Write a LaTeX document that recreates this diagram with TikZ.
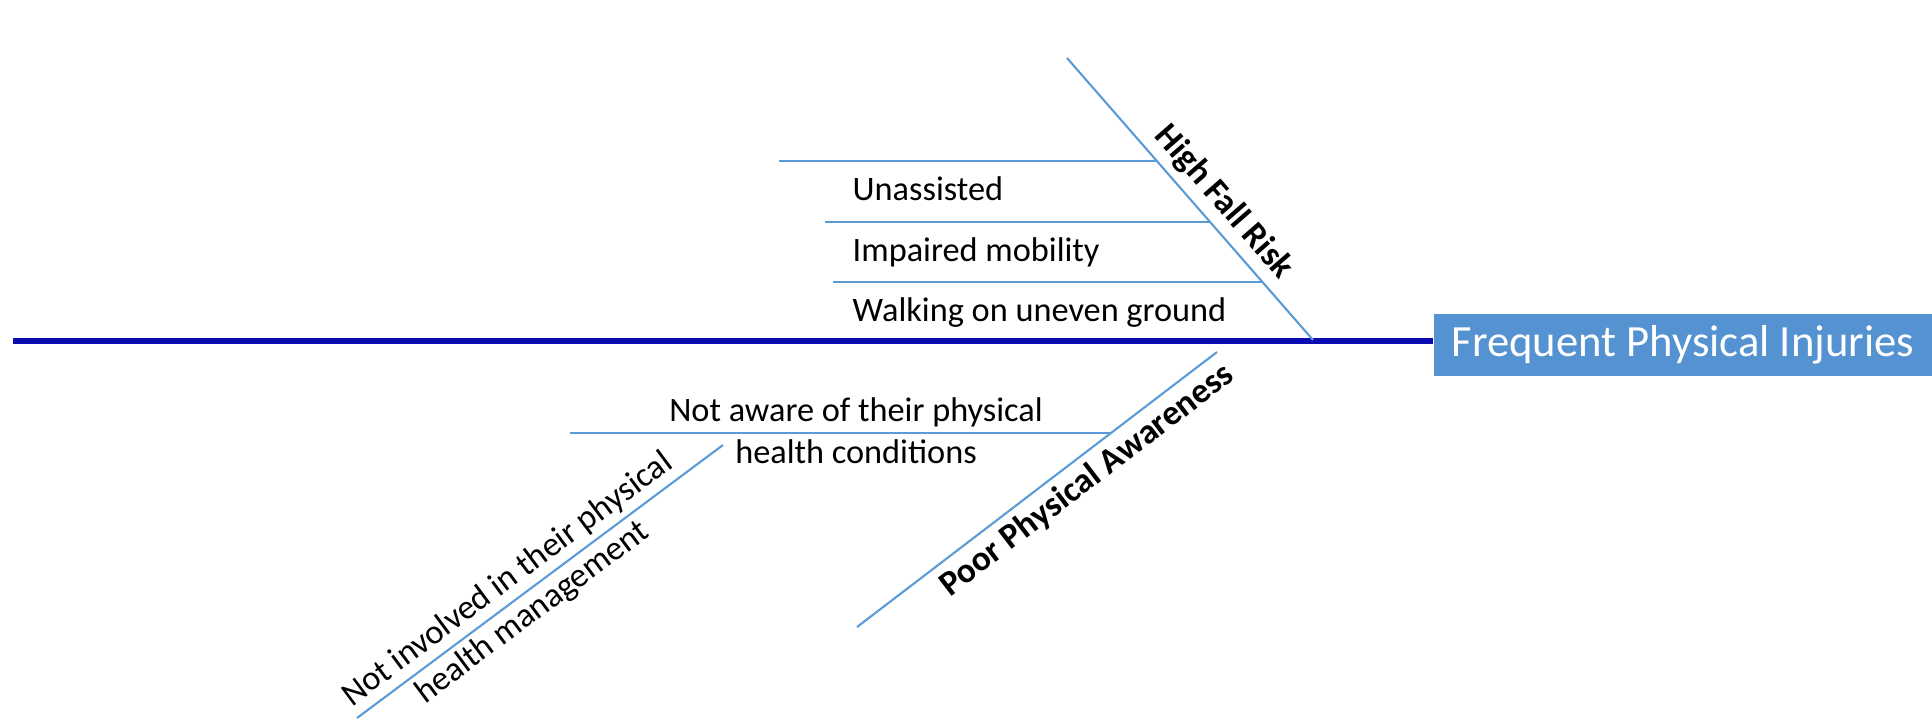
\documentclass[tikz,border=0pt]{standalone}
\usepackage{fontspec}
\setmainfont{Carlito}
\usetikzlibrary{calc,positioning}
\definecolor{spineblue}{RGB}{12,12,178}
\definecolor{boneblue}{RGB}{91,155,213}
\definecolor{boxblue}{RGB}{84,146,210}
\tikzset{
  spine/.style={draw=spineblue, line width=1.45pt},
  bone/.style={draw=boneblue, line width=0.6pt},
  cause/.style={font=\fontsize{10}{12}\selectfont\bfseries, inner sep=2pt},
  item/.style={font=\fontsize{9.76}{11.7}\selectfont, inner sep=0pt},
  effectbox/.style={fill=boxblue, text=white, font=\fontsize{12.7}{15}\selectfont,
    minimum height=0.62cm, inner xsep=0.18cm, anchor=west}
}

\begin{document}
\begin{tikzpicture}
\useasboundingbox (0,0) rectangle (19.32,7.18);
\node[effectbox] (effect) at (14.33,3.73) {Frequent Physical Injuries};
\coordinate (tail) at (0.13,3.77);
\draw[spine] (tail) -- (tail -| effect.west);

\coordinate (fallTop) at (10.67,6.60);
\coordinate (fallEnd) at (13.13,3.78);
\draw[bone] (fallTop) -- node[cause, sloped, above, pos=0.566] (fall) {High Fall Risk} (fallEnd);
\coordinate (f1) at ($(fallTop)!0.365!(fallEnd)$);
\coordinate (f2) at ($(fallTop)!0.582!(fallEnd)$);
\coordinate (f3) at ($(fallTop)!0.794!(fallEnd)$);
\draw[bone] (f1) -- ++(-3.78,0) coordinate (f1s);
\draw[bone] (f2) -- ++(-3.85,0) coordinate (f2s);
\draw[bone] (f3) -- ++(-4.29,0) coordinate (f3s);
\node[item, anchor=base west] (unassisted) at (8.52,5.18) {Unassisted};
\node[item, anchor=base west] (mobility) at (8.52,4.57) {Impaired mobility};
\node[item, anchor=base west] (ground) at (8.52,3.97) {Walking on uneven ground};

\coordinate (poorTail) at (8.57,0.91);
\coordinate (poorEnd) at (12.17,3.66);
\draw[bone] (poorTail) -- node[cause, sloped, below, pos=0.6] (poor) {Poor Physical Awareness} (poorEnd);
\coordinate (p1) at ($(poorTail)!0.7055!(poorEnd)$);
\draw[bone] (p1) -- ++(-5.41,0) coordinate (p1s);
\node[item, align=center, anchor=base] (aware) at (8.56,2.55) {Not aware of their physical\\health conditions};

\coordinate (invTail) at (3.57,0);
\coordinate (invTop) at (7.23,2.73);
\draw[bone] (invTail) -- node[item, sloped, align=center, pos=0.446] (involved) {Not involved in their physical\\health management} (invTop);
\end{tikzpicture}
\end{document}
